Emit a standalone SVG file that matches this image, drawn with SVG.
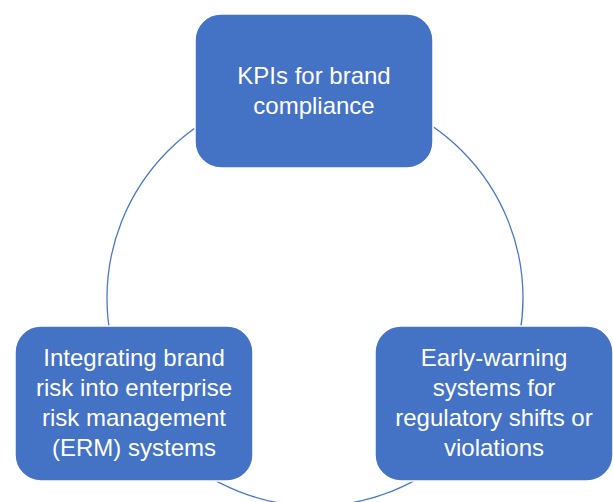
<svg xmlns="http://www.w3.org/2000/svg" width="613" height="502" viewBox="0 0 613 502">
  <style>
    .node rect { fill: #4472C4; stroke: #FFFFFF; stroke-width: 1.5; }
    .node text { fill: #FFFFFF; font-family: "Liberation Sans", Arial, sans-serif; font-size: 24px; text-anchor: middle; }
    .link { fill: none; stroke: #4A78C8; stroke-width: 1.3; }
  </style>
  <rect width="613" height="502" fill="#FFFFFF"/>
  <!-- cycle ring linking the three stages -->
  <g id="connectors">
    <circle class="link" cx="315" cy="298" r="208"/>
  </g>
  <g id="kpis" class="node">
    <rect x="195" y="14" width="238" height="154" rx="26"/>
    <text x="314" y="84">KPIs for brand</text>
    <text x="314" y="114">compliance</text>
  </g>
  <g id="erm" class="node">
    <rect x="15" y="326" width="238" height="155" rx="26"/>
    <text x="134" y="366">Integrating brand</text>
    <text x="134" y="396">risk into enterprise</text>
    <text x="134" y="426">risk management</text>
    <text x="134" y="456">(ERM) systems</text>
  </g>
  <g id="early-warning" class="node">
    <rect x="375" y="326" width="238" height="155" rx="26"/>
    <text x="494" y="366">Early-warning</text>
    <text x="494" y="396">systems for</text>
    <text x="494" y="426">regulatory shifts or</text>
    <text x="494" y="456">violations</text>
  </g>
</svg>
